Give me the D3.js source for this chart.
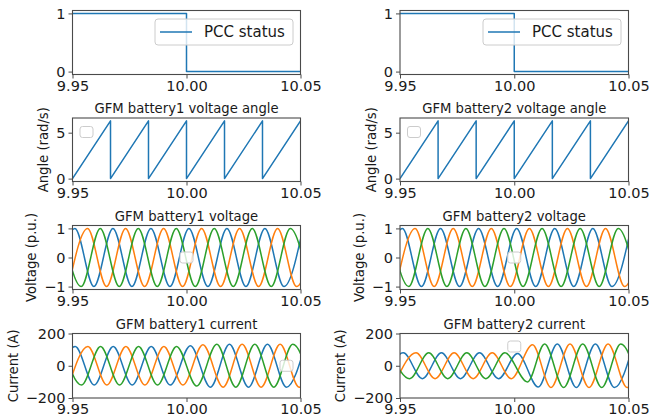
<!DOCTYPE html>
<html>
<head>
<meta charset="utf-8">
<script src="https://cdn.jsdelivr.net/npm/d3@7"></script>
<style>
  html, body { margin: 0; padding: 0; background: #fff; }
  svg { display: block; font-family: "DejaVu Sans", "Liberation Sans", sans-serif; }
</style>
</head>
<body>
<svg id="chart" width="649" height="417"></svg>
<script>
// ---- shared time axis ----
const xDomain = [9.95, 10.05];
const xTicks = [9.95, 10.00, 10.05];
const xTickLabels = ["9.95", "10.00", "10.05"];

// ---- PCC breaker status (step) ----
const pccTime = [9.95, 10.0, 10.0, 10.05];
const pccStatus = [1, 1, 0, 0];

// ---- voltage angle (sawtooth vertices, rad) ----
const angleTime = [9.95, 9.96667, 9.96667, 9.98333, 9.98333, 10.0, 10.0, 10.01667, 10.01667, 10.03333, 10.03333, 10.05];
const angleValue = [0, 6.283, 0, 6.283, 0, 6.283, 0, 6.283, 0, 6.283, 0, 6.283];

// ---- three-phase voltage, p.u. (peak / trough instants and values) ----
const voltTimeA = [9.94273, 9.95106, 9.95939, 9.96773, 9.97606, 9.98439, 9.99273, 10.00106, 10.00939, 10.01773, 10.02606, 10.03439, 10.04273, 10.05106];
const voltA     = [-1, 1, -1, 1, -1, 1, -1, 1, -1, 1, -1, 1, -1, 1];
const voltTimeB = [9.94828, 9.95662, 9.96495, 9.97328, 9.98162, 9.98995, 9.99828, 10.00662, 10.01495, 10.02328, 10.03162, 10.03995, 10.04828, 10.05662];
const voltB     = [-1, 1, -1, 1, -1, 1, -1, 1, -1, 1, -1, 1, -1, 1];
const voltTimeC = [9.94551, 9.95384, 9.96217, 9.97051, 9.97884, 9.98717, 9.99551, 10.00384, 10.01217, 10.02051, 10.02884, 10.03717, 10.04551, 10.05384];
const voltC     = [1, -1, 1, -1, 1, -1, 1, -1, 1, -1, 1, -1, 1, -1];

// ---- battery 1 three-phase current, A (peak / trough instants and values) ----
const cur1TimeA = [9.94286, 9.95119, 9.95953, 9.96786, 9.97619, 9.98453, 9.99286, 10.0017, 10.01051, 10.01884, 10.02718, 10.03551, 10.04384, 10.05218];
const cur1A     = [-120, 120, -120, 120, -120, 120, -120, 124, -133, 133, -133, 133, -133, 133];
const cur1TimeB = [9.94842, 9.95675, 9.96508, 9.97342, 9.98175, 9.99008, 9.99842, 10.0072, 10.01607, 10.0244, 10.03273, 10.04107, 10.0494, 10.05773];
const cur1B     = [-120, 120, -120, 120, -120, 120, -120, 130, -133, 133, -133, 133, -133, 133];
const cur1TimeC = [9.94564, 9.95397, 9.9623, 9.97064, 9.97897, 9.9873, 9.99564, 10.0045, 10.01329, 10.02162, 10.02996, 10.03829, 10.04662, 10.05496];
const cur1C     = [120, -120, 120, -120, 120, -120, 120, -126, 133, -133, 133, -133, 133, -133];

// ---- battery 2 three-phase current, A (peak / trough instants and values) ----
const cur2TimeA = [9.94313, 9.95146, 9.95979, 9.96813, 9.97646, 9.98479, 9.99313, 10.00146, 10.01051, 10.01884, 10.02718, 10.03551, 10.04384, 10.05218];
const cur2A     = [-80, 80, -80, 80, -80, 80, -80, 76, -132, 135, -135, 135, -135, 135];
const cur2TimeB = [9.94868, 9.95702, 9.96535, 9.97368, 9.98202, 9.99035, 9.99868, 10.0080, 10.01607, 10.0244, 10.03273, 10.04107, 10.0494, 10.05773];
const cur2B     = [-80, 80, -80, 80, -80, 80, -80, 130, -135, 135, -135, 135, -135, 135];
const cur2TimeC = [9.9459, 9.95424, 9.96257, 9.9709, 9.97924, 9.98757, 9.9959, 10.0058, 10.01329, 10.02162, 10.02996, 10.03829, 10.04662, 10.05496];
const cur2C     = [80, -80, 80, -80, 80, -80, 80, -100, 135, -135, 135, -135, 135, -135];

// ---- y axes ----
const pccTicks = [0, 1];
const angleTicks = [0, 5];
const voltTicks = [-1, 0, 1];
const curTicks = [-200, 0, 200];

// ---- styling / layout ----
const C_BLUE = "#1f77b4", C_ORANGE = "#ff7f0e", C_GREEN = "#2ca02c";
const FONT_TICK = 14.5, FONT_TITLE = 13.2, FONT_LEGEND = 15;
const cols = [{ x0: 72.5, x1: 300.5 }, { x0: 400, x1: 628.5 }];
const rows = [{ y0: 10.5, y1: 74.5 }, { y0: 118, y1: 181.5 }, { y0: 225.5, y1: 289.5 }, { y0: 333.5, y1: 398 }];

const svg = d3.select("#chart");
const defs = svg.append("defs");
const fmtMinus = v => String(v).replace("-", "\u2212");

const threePhase = (tA, a, tB, b, tC, c) => [
  { t: tA, v: a, color: C_BLUE },
  { t: tB, v: b, color: C_ORANGE },
  { t: tC, v: c, color: C_GREEN }
];

function panelsFor(n) {
  const volt = threePhase(voltTimeA, voltA, voltTimeB, voltB, voltTimeC, voltC);
  const cur = n === 1
    ? threePhase(cur1TimeA, cur1A, cur1TimeB, cur1B, cur1TimeC, cur1C)
    : threePhase(cur2TimeA, cur2A, cur2TimeB, cur2B, cur2TimeC, cur2C);
  return [
    { yDomain: [-0.05, 1.05], ticks: pccTicks, curve: d3.curveLinear,
      series: [{ t: pccTime, v: pccStatus, color: C_BLUE }], legend: "PCC status" },
    { yDomain: [-0.314, 6.597], ticks: angleTicks, curve: d3.curveLinear,
      series: [{ t: angleTime, v: angleValue, color: C_BLUE }],
      title: `GFM battery${n} voltage angle`, ylabel: "Angle (rad/s)", empty: "upper left" },
    { yDomain: [-1.1, 1.1], ticks: voltTicks, curve: d3.curveMonotoneX, series: volt,
      title: `GFM battery${n} voltage`, ylabel: "Voltage (p.u.)", empty: "center" },
    { yDomain: [-200, 200], ticks: curTicks, curve: d3.curveMonotoneX, series: cur,
      title: `GFM battery${n} current`, ylabel: "Current (A)", empty: n === 1 ? "center right" : "upper center" }
  ];
}

function drawPanel(p, ci, ri) {
  const c = cols[ci], r = rows[ri];
  const x = d3.scaleLinear().domain(xDomain).range([c.x0, c.x1]);
  const y = d3.scaleLinear().domain(p.yDomain).range([r.y1, r.y0]);
  const g = svg.append("g");
  const clipId = `clip-${ri}-${ci}`;
  defs.append("clipPath").attr("id", clipId).append("rect")
    .attr("x", c.x0).attr("y", r.y0).attr("width", c.x1 - c.x0).attr("height", r.y1 - r.y0);

  const line = d3.line().x(d => x(d[0])).y(d => y(d[1])).curve(p.curve);
  const plot = g.append("g").attr("clip-path", `url(#${clipId})`);
  p.series.forEach(s => {
    plot.append("path")
      .datum(d3.zip(s.t, s.v))
      .attr("d", line)
      .attr("fill", "none")
      .attr("stroke", s.color)
      .attr("stroke-width", 1.5)
      .attr("stroke-linejoin", "round");
  });

  // frame
  g.append("rect")
    .attr("x", c.x0).attr("y", r.y0).attr("width", c.x1 - c.x0).attr("height", r.y1 - r.y0)
    .attr("fill", "none").attr("stroke", "#4a4a4a").attr("stroke-width", 1.1);

  // x axis
  const xa = g.append("g").attr("transform", `translate(0,${r.y1})`)
    .call(d3.axisBottom(x).tickValues(xTicks).tickFormat((d, i) => xTickLabels[i]).tickSize(4).tickPadding(2).tickSizeOuter(0));
  // y axis
  const ya = g.append("g").attr("transform", `translate(${c.x0},0)`)
    .call(d3.axisLeft(y).tickValues(p.ticks).tickFormat(fmtMinus).tickSize(4).tickPadding(3).tickSizeOuter(0));
  [xa, ya].forEach(a => {
    a.select(".domain").remove();
    a.attr("font-family", null).attr("font-size", null);
    a.selectAll("line").attr("stroke", "#4a4a4a").attr("stroke-width", 1);
    a.selectAll("text").attr("fill", "#1a1a1a").style("font-size", FONT_TICK + "px");
  });

  // title
  if (p.title) {
    g.append("text")
      .attr("x", (c.x0 + c.x1) / 2).attr("y", r.y0 - 5)
      .attr("text-anchor", "middle").attr("fill", "#1a1a1a")
      .style("font-size", FONT_TITLE + "px")
      .text(p.title);
  }

  // y label, placed just left of the tick labels
  if (p.ylabel) {
    const bb = ya.node().getBBox();
    const left = c.x0 + bb.x;
    const lx = left - 8;
    const ly = (r.y0 + r.y1) / 2;
    g.append("text")
      .attr("transform", `translate(${lx},${ly}) rotate(-90)`)
      .attr("text-anchor", "middle").attr("fill", "#1a1a1a")
      .style("font-size", FONT_TITLE + "px")
      .text(p.ylabel);
  }

  // legend with a line entry
  if (p.legend) {
    const w = 138, h = 26;
    const lx = c.x1 - 7.5 - w, ly = r.y0 + 8.5;
    g.append("rect").attr("x", lx).attr("y", ly).attr("width", w).attr("height", h).attr("rx", 3)
      .attr("fill", "#fff").attr("fill-opacity", 0.8).attr("stroke", "#cccccc").attr("stroke-width", 1);
    g.append("line").attr("x1", lx + 5).attr("x2", lx + 37).attr("y1", ly + h / 2).attr("y2", ly + h / 2)
      .attr("stroke", C_BLUE).attr("stroke-width", 1.5);
    g.append("text").attr("x", lx + 49).attr("y", ly + h / 2 + 5.4)
      .attr("fill", "#1a1a1a").style("font-size", FONT_LEGEND + "px").text(p.legend);
  }

  // legend frame with no entries
  if (p.empty) {
    const w = 13, h = 11;
    const mx = (c.x0 + c.x1) / 2, my = (r.y0 + r.y1) / 2;
    let ex, ey;
    if (p.empty === "upper left") { ex = c.x0 + 7.5; ey = r.y0 + 8.5; }
    else if (p.empty === "center") { ex = mx - w / 2; ey = my - h / 2; }
    else if (p.empty === "center right") { ex = c.x1 - 7.5 - w; ey = my - h / 2; }
    else { ex = mx - w / 2; ey = r.y0 + 7.5; }
    g.append("rect").attr("x", ex).attr("y", ey).attr("width", w).attr("height", h).attr("rx", 2.5)
      .attr("fill", "#fff").attr("fill-opacity", 0.8).attr("stroke", "#cccccc").attr("stroke-width", 1);
  }
}

[1, 2].forEach((n, ci) => {
  panelsFor(n).forEach((p, ri) => drawPanel(p, ci, ri));
});
</script>
</body>
</html>
